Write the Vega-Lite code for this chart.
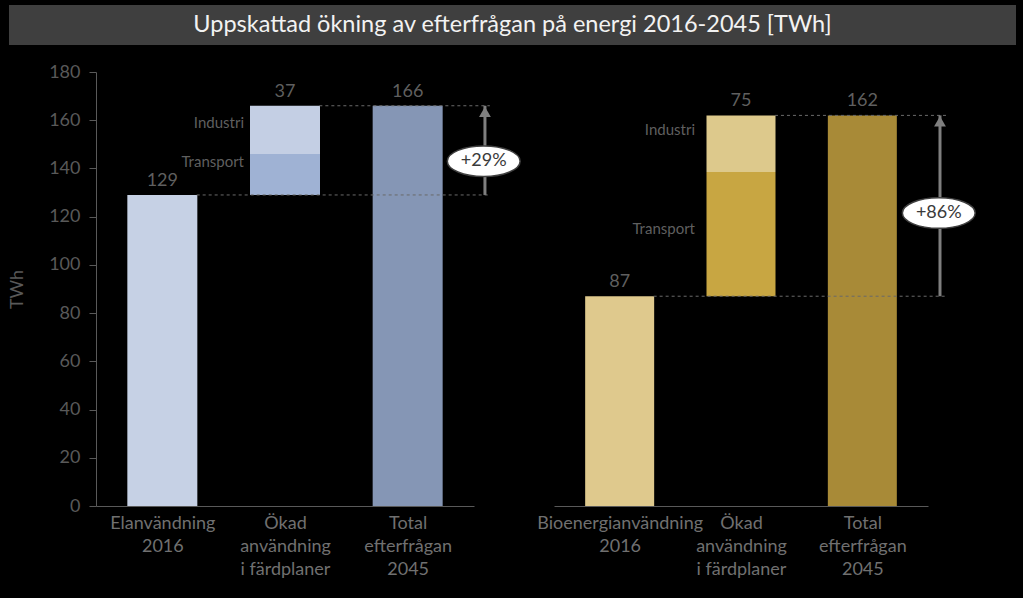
{
  "$schema": "https://vega.github.io/schema/vega-lite/v6.json",
  "background": "black",
  "padding": {"left": 8, "top": 5, "right": 8, "bottom": 20},
  "config": {"font": "Lato", "view": {"stroke": null}, "text": {"font": "Lato"}},
  "datasets": {
    "bars": [
      {"panel": "el", "pos": 0, "lo": 0, "hi": 129, "part": "el2016"},
      {"panel": "el", "pos": 1, "lo": 129, "hi": 146, "part": "elTransport"},
      {"panel": "el", "pos": 1, "lo": 146, "hi": 166, "part": "elIndustri"},
      {"panel": "el", "pos": 2, "lo": 0, "hi": 166, "part": "elTotal"},
      {"panel": "bio", "pos": 0, "lo": 0, "hi": 87, "part": "bio2016"},
      {"panel": "bio", "pos": 1, "lo": 87, "hi": 138.5, "part": "bioTransport"},
      {"panel": "bio", "pos": 1, "lo": 138.5, "hi": 162, "part": "bioIndustri"},
      {"panel": "bio", "pos": 2, "lo": 0, "hi": 162, "part": "bioTotal"}
    ],
    "values": [
      {"panel": "el", "pos": 0, "top": 129, "label": "129"},
      {"panel": "el", "pos": 1, "top": 166, "label": "37"},
      {"panel": "el", "pos": 2, "top": 166, "label": "166"},
      {"panel": "bio", "pos": 0, "top": 87, "label": "87"},
      {"panel": "bio", "pos": 1, "top": 162, "label": "75"},
      {"panel": "bio", "pos": 2, "top": 162, "label": "162"}
    ],
    "seg": [
      {"panel": "el", "pos": 1, "y": 159, "label": "Industri"},
      {"panel": "el", "pos": 1, "y": 142.5, "label": "Transport"},
      {"panel": "bio", "pos": 1, "y": 156, "label": "Industri"},
      {"panel": "bio", "pos": 1, "y": 115, "label": "Transport"}
    ],
    "dash": [
      {"panel": "el", "y": 129, "from": 0.28, "to": 2.67},
      {"panel": "el", "y": 166, "from": 1.28, "to": 2.67},
      {"panel": "bio", "y": 87, "from": 0.28, "to": 2.7},
      {"panel": "bio", "y": 162, "from": 1.28, "to": 2.7}
    ],
    "arrow": [
      {"panel": "el", "ax": 2.63, "lo": 129, "tip": 166, "ex": 2.62, "ey": 143, "pct": "+29%"},
      {"panel": "bio", "ax": 2.64, "lo": 87, "tip": 162, "ex": 2.63, "ey": 121.5, "pct": "+86%"}
    ],
    "title": [{"title": "Uppskattad ökning av efterfrågan på energi 2016-2045 [TWh]"}],
    "empty": []
  },
  "spacing": 18,
  "vconcat": [
    {
      "data": {"name": "title"},
      "width": 1007,
      "height": 40,
      "view": {"fill": "#3f3f3f", "stroke": null},
      "mark": {"type": "text", "fontSize": 23.5, "fill": "#f2f2f2", "baseline": "middle", "align": "center"},
      "encoding": {"text": {"field": "title"}}
    },
    {
      "hconcat": [
        {
          "data": {"name": "empty"},
          "width": 7,
          "height": 434,
          "mark": {"type": "text"},
          "encoding": {}
        },
        {
          "width": 378,
          "height": 434,
          "layer": [
            {
              "data": {"name": "bars"},
              "transform": [{"filter": "datum.panel == 'el'"}],
              "mark": {"type": "bar", "width": 70},
              "encoding": {
                "x": {"field": "pos", "type": "quantitative", "scale": {"domain": [-0.5, 2.5], "nice": false, "zero": false},
                  "axis": {"values": [0, 1, 2], "title": null, "grid": false, "ticks": false, "domainColor": "#595959",
                    "labelExpr": "datum.value == 0 ? ['Elanvändning', '2016'] : datum.value == 1 ? ['Ökad', 'användning', 'i färdplaner'] : ['Total', 'efterfrågan', '2045']",
                    "labelColor": "#707070", "labelFontSize": 18, "labelPadding": 8, "labelLineHeight": 23, "labelOverlap": false, "labelBound": false, "labelBaseline": "top"}},
                "y": {"field": "lo", "type": "quantitative", "scale": {"domain": [0, 180], "nice": false},
                  "axis": {"values": [0, 20, 40, 60, 80, 100, 120, 140, 160, 180], "title": "TWh", "grid": false,
                    "titleColor": "#595959", "titleFontSize": 18, "titleFontWeight": "normal", "titlePadding": 22,
                    "labelColor": "#595959", "labelFontSize": 18, "labelPadding": 9, "tickSize": 7, "tickColor": "#595959", "domainColor": "#595959"}},
                "y2": {"field": "hi"},
                "color": {"field": "part", "type": "nominal", "legend": null,
                  "scale": {"domain": ["el2016", "elTransport", "elIndustri", "elTotal", "bio2016", "bioTransport", "bioIndustri", "bioTotal"],
                    "range": ["#c6d1e5", "#9fb2d4", "#c4cfe4", "#8596b5", "#dfc98d", "#c8a642", "#ddc98c", "#a88a37"]}}
              }
            },
            {
              "data": {"name": "dash"},
              "transform": [{"filter": "datum.panel == 'el'"}],
              "mark": {"type": "rule", "color": "#6a6a6a", "strokeDash": [3, 3], "strokeWidth": 1},
              "encoding": {"x": {"field": "from", "type": "quantitative"}, "x2": {"field": "to"}, "y": {"field": "y", "type": "quantitative"}}
            },
            {
              "data": {"name": "arrow"},
              "transform": [{"filter": "datum.panel == 'el'"}],
              "layer": [
                {"mark": {"type": "rule", "color": "#7f7f7f", "strokeWidth": 3},
                  "encoding": {"x": {"field": "ax", "type": "quantitative"}, "y": {"field": "lo", "type": "quantitative"}, "y2": {"field": "tip"}}},
                {"mark": {"type": "point", "shape": "triangle-up", "filled": true, "size": 140, "color": "#7f7f7f", "opacity": 1, "yOffset": 6},
                  "encoding": {"x": {"field": "ax", "type": "quantitative"}, "y": {"field": "tip", "type": "quantitative"}}},
                {"mark": {"type": "point", "shape": "M-1,0A1,0.42 0 1,1 1,0A1,0.42 0 1,1 -1,0Z", "filled": true, "size": 5300, "fill": "#ffffff", "stroke": "#404040", "strokeWidth": 1.5, "opacity": 1},
                  "encoding": {"x": {"field": "ex", "type": "quantitative"}, "y": {"field": "ey", "type": "quantitative"}}},
                {"mark": {"type": "text", "fontSize": 18, "fill": "#3a3a3a", "baseline": "middle"},
                  "encoding": {"x": {"field": "ex", "type": "quantitative"}, "y": {"field": "ey", "type": "quantitative"}, "text": {"field": "pct"}}}
              ]
            },
            {
              "data": {"name": "values"},
              "transform": [{"filter": "datum.panel == 'el'"}],
              "mark": {"type": "text", "fontSize": 18, "fill": "#5f5f5f", "baseline": "bottom", "dy": -5},
              "encoding": {"x": {"field": "pos", "type": "quantitative"}, "y": {"field": "top", "type": "quantitative"}, "text": {"field": "label"}}
            },
            {
              "data": {"name": "seg"},
              "transform": [{"filter": "datum.panel == 'el'"}],
              "mark": {"type": "text", "fontSize": 15, "fill": "#5f5f5f", "baseline": "middle", "align": "right", "dx": -41},
              "encoding": {"x": {"field": "pos", "type": "quantitative"}, "y": {"field": "y", "type": "quantitative"}, "text": {"field": "label"}}
            }
          ]
        },
        {
          "width": 374,
          "height": 434,
          "layer": [
            {
              "data": {"name": "bars"},
              "transform": [{"filter": "datum.panel == 'bio'"}],
              "mark": {"type": "bar", "width": 69},
              "encoding": {
                "x": {"field": "pos", "type": "quantitative", "scale": {"domain": [-0.5, 2.5], "nice": false, "zero": false},
                  "axis": {"values": [0, 1, 2], "title": null, "grid": false, "ticks": false, "domainColor": "#595959",
                    "labelExpr": "datum.value == 0 ? ['Bioenergianvändning', '2016'] : datum.value == 1 ? ['Ökad', 'användning', 'i färdplaner'] : ['Total', 'efterfrågan', '2045']",
                    "labelColor": "#707070", "labelFontSize": 18, "labelPadding": 8, "labelLineHeight": 23, "labelOverlap": false, "labelBound": false, "labelBaseline": "top"}},
                "y": {"field": "lo", "type": "quantitative", "scale": {"domain": [0, 180], "nice": false}, "axis": null},
                "y2": {"field": "hi"},
                "color": {"field": "part", "type": "nominal", "legend": null,
                  "scale": {"domain": ["el2016", "elTransport", "elIndustri", "elTotal", "bio2016", "bioTransport", "bioIndustri", "bioTotal"],
                    "range": ["#c6d1e5", "#9fb2d4", "#c4cfe4", "#8596b5", "#dfc98d", "#c8a642", "#ddc98c", "#a88a37"]}}
              }
            },
            {
              "data": {"name": "dash"},
              "transform": [{"filter": "datum.panel == 'bio'"}],
              "mark": {"type": "rule", "color": "#6a6a6a", "strokeDash": [3, 3], "strokeWidth": 1},
              "encoding": {"x": {"field": "from", "type": "quantitative"}, "x2": {"field": "to"}, "y": {"field": "y", "type": "quantitative"}}
            },
            {
              "data": {"name": "arrow"},
              "transform": [{"filter": "datum.panel == 'bio'"}],
              "layer": [
                {"mark": {"type": "rule", "color": "#7f7f7f", "strokeWidth": 3},
                  "encoding": {"x": {"field": "ax", "type": "quantitative"}, "y": {"field": "lo", "type": "quantitative"}, "y2": {"field": "tip"}}},
                {"mark": {"type": "point", "shape": "triangle-up", "filled": true, "size": 140, "color": "#7f7f7f", "opacity": 1, "yOffset": 6},
                  "encoding": {"x": {"field": "ax", "type": "quantitative"}, "y": {"field": "tip", "type": "quantitative"}}},
                {"mark": {"type": "point", "shape": "M-1,0A1,0.42 0 1,1 1,0A1,0.42 0 1,1 -1,0Z", "filled": true, "size": 5300, "fill": "#ffffff", "stroke": "#404040", "strokeWidth": 1.5, "opacity": 1},
                  "encoding": {"x": {"field": "ex", "type": "quantitative"}, "y": {"field": "ey", "type": "quantitative"}}},
                {"mark": {"type": "text", "fontSize": 18, "fill": "#3a3a3a", "baseline": "middle"},
                  "encoding": {"x": {"field": "ex", "type": "quantitative"}, "y": {"field": "ey", "type": "quantitative"}, "text": {"field": "pct"}}}
              ]
            },
            {
              "data": {"name": "values"},
              "transform": [{"filter": "datum.panel == 'bio'"}],
              "mark": {"type": "text", "fontSize": 18, "fill": "#5f5f5f", "baseline": "bottom", "dy": -5},
              "encoding": {"x": {"field": "pos", "type": "quantitative"}, "y": {"field": "top", "type": "quantitative"}, "text": {"field": "label"}}
            },
            {
              "data": {"name": "seg"},
              "transform": [{"filter": "datum.panel == 'bio'"}],
              "mark": {"type": "text", "fontSize": 15, "fill": "#5f5f5f", "baseline": "middle", "align": "right", "dx": -46},
              "encoding": {"x": {"field": "pos", "type": "quantitative"}, "y": {"field": "y", "type": "quantitative"}, "text": {"field": "label"}}
            }
          ]
        }
      ],
      "bounds": "flush",
      "spacing": 80
    }
  ]
}
